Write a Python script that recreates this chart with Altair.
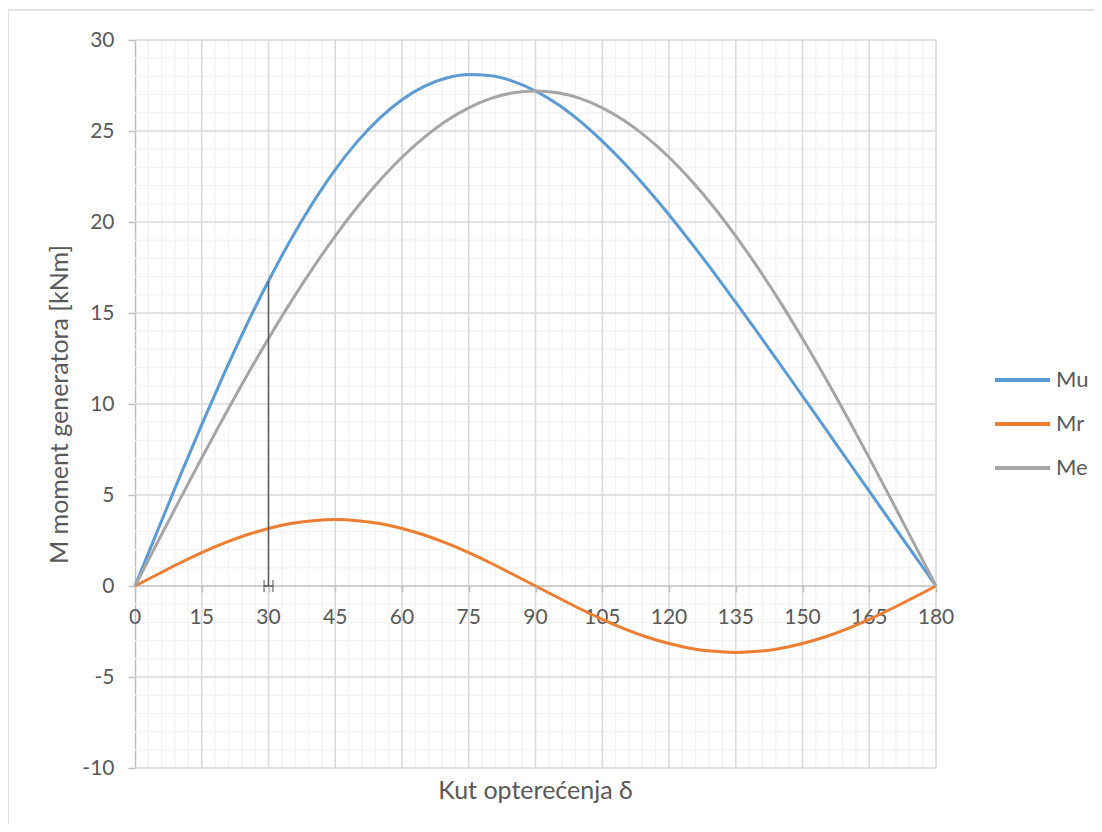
import altair as alt
import pandas as pd

# ---- data ----
delta = list(range(0, 181, 5))
mu = [0, 3.00, 5.97, 8.87, 11.65, 14.30, 16.76, 19.03, 21.07, 22.88, 24.43, 25.71,
      26.72, 27.45, 27.91, 28.10, 28.04, 27.73, 27.20, 26.47, 25.54, 24.44, 23.21,
      21.85, 20.40, 18.85, 17.25, 15.58, 13.89, 12.17, 10.44, 8.70, 6.95, 5.21,
      3.47, 1.74, 0]
mr = [0, 0.63, 1.25, 1.83, 2.35, 2.80, 3.16, 3.43, 3.59, 3.65, 3.59, 3.43, 3.16,
      2.80, 2.35, 1.83, 1.25, 0.63, 0, -0.63, -1.25, -1.83, -2.35, -2.80, -3.16,
      -3.43, -3.59, -3.65, -3.59, -3.43, -3.16, -2.80, -2.35, -1.83, -1.25, -0.63, 0]
me = [0, 2.37, 4.72, 7.04, 9.30, 11.50, 13.60, 15.60, 17.48, 19.23, 20.84, 22.28,
      23.56, 24.65, 25.56, 26.27, 26.79, 27.10, 27.20, 27.10, 26.79, 26.27, 25.56,
      24.65, 23.56, 22.28, 20.84, 19.23, 17.48, 15.60, 13.60, 11.50, 9.30, 7.04,
      4.72, 2.37, 0]
series_names = ["Mu", "Mr", "Me"]
series_colors = ["#5B9BD5", "#ED7D31", "#A5A5A5"]

x_major = list(range(0, 181, 15))
y_major = list(range(-10, 31, 5))
x_minor = [v for v in range(0, 181, 3) if v % 15 != 0]
y_minor = [v for v in range(-10, 31, 1) if v % 5 != 0]
x_labels = [str(v) for v in x_major]

marker_delta = [30]
marker_top = [16.76]
marker_caps = [29, 31]

x_title = "Kut opterećenja δ"
y_title = "M moment generatora [kNm]"

FONT = "Lato"
TXT = "#595959"

# ---- tables ----
rows = []
for name, vals in zip(series_names, [mu, mr, me]):
    for d, v in zip(delta, vals):
        rows.append({"delta": d, "M": v, "series": name})
long_df = pd.DataFrame(rows)

XS = alt.Scale(domain=[0, 180], nice=False, zero=False)
YS = alt.Scale(domain=[-10, 30], nice=False, zero=False)

AX_X = alt.Axis(
    values=x_major, offset=-182, grid=False, domain=False, labels=False,
    tickColor="#BFBFBF", tickWidth=1.5, tickSize=6, zindex=1,
    title=x_title, titleFont=FONT, titleFontSize=25, titleColor=TXT,
    titleFontWeight="normal", titleX=400, titleY=204,
    titleBaseline="middle", titleAlign="center")
AX_Y = alt.Axis(
    values=y_major, grid=False, domainColor="#BFBFBF", domainWidth=1.5,
    tickColor="#BFBFBF", tickWidth=1.5, tickSize=7,
    labelFontSize=21, labelColor=TXT, labelFont=FONT, labelPadding=14,
    labelFlush=False, labelOverlap=False, labelExpr="'' + datum.value",
    title=y_title, titleFont=FONT, titleFontSize=25, titleColor=TXT,
    titleFontWeight="normal", titleX=-76, titleY=364, titleAngle=270,
    titleBaseline="middle", titleAlign="center")


def X(field):
    return alt.X(field, scale=XS, axis=AX_X)


def Y(field):
    return alt.Y(field, scale=YS, axis=AX_Y)


W, H = 801, 728

minor_x = alt.Chart(pd.DataFrame({"v": x_minor})).mark_rule(
    color="#F2F2F2", strokeWidth=1.3).encode(x=X("v:Q"))
minor_y = alt.Chart(pd.DataFrame({"v": y_minor})).mark_rule(
    color="#F2F2F2", strokeWidth=1.3).encode(y=Y("v:Q"))
major_x = alt.Chart(pd.DataFrame({"v": [v for v in x_major if v != 0]})).mark_rule(
    color="#D9D9D9", strokeWidth=1.5).encode(x=X("v:Q"))
major_y = alt.Chart(pd.DataFrame({"v": [v for v in y_major if v != 0]})).mark_rule(
    color="#D9D9D9", strokeWidth=1.5).encode(y=Y("v:Q"))
zero_line = alt.Chart(pd.DataFrame({"v": [0]})).mark_rule(
    color="#BFBFBF", strokeWidth=1.5).encode(y=Y("v:Q"))

xlab_df = pd.DataFrame({"v": x_major, "t": x_labels, "z": [0] * len(x_major)})
x_text = alt.Chart(xlab_df).mark_text(
    font=FONT, fontSize=21, color=TXT, baseline="alphabetic", align="center", dy=38
).encode(x=X("v:Q"), y=Y("z:Q"), text="t:N")

lines = alt.Chart(long_df).mark_line(strokeWidth=3, interpolate="monotone").encode(
    x=X("delta:Q"),
    y=Y("M:Q"),
    color=alt.Color("series:N", sort=series_names,
                    scale=alt.Scale(domain=series_names, range=series_colors),
                    legend=alt.Legend(
                        title=None, orient="none", legendX=858, legendY=329,
                        symbolType="stroke", symbolSize=3025, symbolStrokeWidth=4,
                        clipHeight=22, rowPadding=22, labelFontSize=22,
                        labelFont=FONT, labelColor=TXT, labelOffset=4, padding=0)),
)

marker_df = pd.DataFrame({"d": marker_delta, "lo": [0], "hi": marker_top})
marker = alt.Chart(marker_df).mark_rule(color="#595959", strokeWidth=1.5).encode(
    x=X("d:Q"), y=Y("lo:Q"), y2="hi:Q")
caps = alt.Chart(pd.DataFrame({"d": marker_caps, "z": [0, 0]})).mark_tick(
    color="#595959", orient="vertical", size=12, thickness=1.5).encode(
    x=X("d:Q"), y=Y("z:Q"))
cap_bar = alt.Chart(pd.DataFrame({"a": [marker_caps[0]], "b": [marker_caps[1]], "z": [0]})).mark_rule(
    color="#595959", strokeWidth=1.5).encode(x=X("a:Q"), x2="b:Q", y=Y("z:Q"))

frame_top = alt.Chart(pd.DataFrame({"k": [0]})).mark_rule(color="#D9D9D9", strokeWidth=1.5).encode(
    x=alt.value(-127), x2=alt.value(975), y=alt.value(-30))
frame_left = alt.Chart(pd.DataFrame({"k": [0]})).mark_rule(color="#D9D9D9", strokeWidth=1.5).encode(
    x=alt.value(-127), y=alt.value(-30), y2=alt.value(800))

chart = alt.layer(
    minor_x, minor_y, major_x, major_y, zero_line, frame_top, frame_left,
    x_text, lines, marker, cap_bar, caps
).properties(
    width=W, height=H,
    autosize=alt.AutoSizeParams(type="none"),
    padding={"left": 127, "top": 32, "right": 158, "bottom": 56},
    background="white",
).configure_view(stroke=None)

chart.save("out.html", embed_options={"renderer": "svg", "actions": False})
